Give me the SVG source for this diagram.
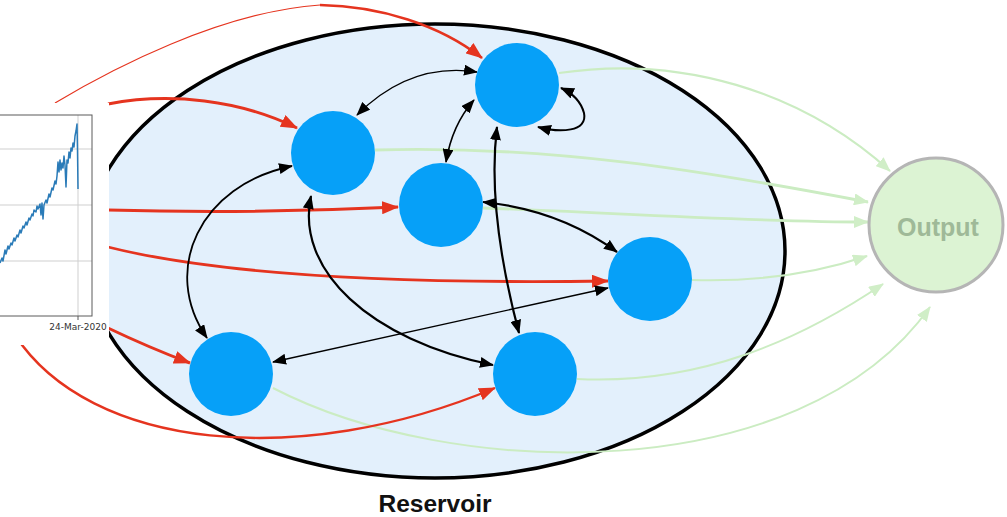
<svg xmlns="http://www.w3.org/2000/svg" width="1007" height="517" viewBox="0 0 1007 517">
  <style>
    .node { fill: #06a0f8; }
    .red { fill: none; stroke: #e5341f; marker-end: url(#head-red); }
    .blk { fill: none; stroke: #000; marker-start: url(#head-black); marker-end: url(#head-black); }
    .grn { fill: none; stroke: #cbecc2; marker-end: url(#head-green); }
    .grid { stroke: #cfcfcf; stroke-width: 1; }
    .label { font-family: "Liberation Sans", Arial, sans-serif; font-weight: bold; text-anchor: middle; }
  </style>
  <defs>
    <marker id="head-red" viewBox="0 0 17 13" refX="16" refY="6.5" markerWidth="17" markerHeight="13" markerUnits="userSpaceOnUse" orient="auto">
      <path d="M0,0 L17,6.5 L0,13 z" fill="#e5341f"/>
    </marker>
    <marker id="head-black" viewBox="0 0 14 11" refX="13" refY="5.5" markerWidth="14" markerHeight="11" markerUnits="userSpaceOnUse" orient="auto-start-reverse">
      <path d="M0,0 L14,5.5 L0,11 z" fill="#000"/>
    </marker>
    <marker id="head-green" viewBox="0 0 15 12" refX="14" refY="6" markerWidth="15" markerHeight="12" markerUnits="userSpaceOnUse" orient="auto">
      <path d="M0,0 L15,6 L0,12 z" fill="#d0eec7"/>
    </marker>
  </defs>

  <rect width="1007" height="517" fill="#fff"/>

  <!-- reservoir container -->
  <g id="reservoir">
    <ellipse cx="435" cy="251" rx="350" ry="227" fill="#e3f0fc" stroke="#000" stroke-width="3.5"/>
    <text class="label" x="435" y="512" font-size="24.5" fill="#111">Reservoir</text>
  </g>

  <g id="connectors">
    <!-- readout links -->
    <path class="grn" stroke-width="2.2" d="M559,73 C 680,55 800,90 890,171"/>
    <path class="grn" stroke-width="2.8" d="M375,150 C 550,145 700,170 868,202"/>
    <path class="grn" stroke-width="2.8" d="M483,208 C 600,212 750,222 868,222"/>
    <path class="grn" stroke-width="2.2" d="M692,280 C 760,282 820,272 867,256"/>
    <path class="grn" stroke-width="2" stroke="#d8f1d1" d="M577,379 C 700,385 800,340 883,284"/>
    <path class="grn" stroke-width="2" stroke="#d8f1d1" d="M273,388 C 450,480 800,490 930,307"/>

    <!-- input links -->
    <path fill="none" stroke="#e5341f" stroke-width="1.2" d="M55,103 C 110,70 220,12 320,5"/>
    <path class="red" stroke-width="2.6" d="M320,5 C 380,6 440,25 482,58"/>
    <path class="red" stroke-width="3" d="M108,104 C 170,92 240,100 297,128"/>
    <path class="red" stroke-width="3" d="M108,210 Q 250,214 398,207"/>
    <path class="red" stroke-width="2.8" d="M108,247 C 220,275 400,284 608,281"/>
    <path class="red" stroke-width="3" d="M108,328 Q 150,348 190,363"/>
    <path class="red" stroke-width="2.4" d="M15,335 C 90,450 300,470 495,388"/>

    <!-- recurrent links -->
    <path class="blk" stroke-width="1.3" d="M357,115 Q 410,62 477,72"/>
    <path class="blk" stroke-width="1.6" d="M474,100 Q 452,125 446,162"/>
    <path class="blk" stroke-width="2" d="M538,127 C 560,133 588,132 584,113 C 581,102 572,93 561,88"/>
    <path class="blk" stroke-width="2.2" d="M497,127 C 488,200 505,280 519,333"/>
    <path class="blk" stroke-width="2.2" d="M483,202 Q 560,210 617,252"/>
    <path class="blk" stroke-width="1.4" d="M273,362 L608,288"/>
    <path class="blk" stroke-width="1.8" d="M292,166 C 200,185 160,270 207,338"/>
    <path class="blk" stroke-width="2.2" d="M311,196 C 295,270 370,340 493,365"/>
  </g>

  <!-- reservoir units -->
  <g id="unit-1"><circle class="node" cx="517" cy="85" r="42"/></g>
  <g id="unit-2"><circle class="node" cx="333" cy="153" r="42"/></g>
  <g id="unit-3"><circle class="node" cx="441" cy="205" r="42"/></g>
  <g id="unit-4"><circle class="node" cx="650" cy="279" r="42"/></g>
  <g id="unit-5"><circle class="node" cx="231" cy="374" r="42"/></g>
  <g id="unit-6"><circle class="node" cx="535" cy="374" r="42"/></g>

  <!-- readout unit -->
  <g id="output">
    <circle cx="936" cy="225" r="67" fill="#dcf3d3" stroke="#b5b5b5" stroke-width="3"/>
    <text class="label" x="938" y="235.5" font-size="25" fill="#9fb998">Output</text>
  </g>

  <!-- input time series plot -->
  <g id="input-series">
    <rect x="0" y="103" width="109" height="242" fill="#fff"/>
    <line class="grid" x1="0" y1="149" x2="92" y2="149"/>
    <line class="grid" x1="0" y1="205" x2="92" y2="205"/>
    <line class="grid" x1="0" y1="261" x2="92" y2="261"/>
    <line class="grid" x1="78" y1="115" x2="78" y2="316"/>
    <rect x="-10" y="115" width="102" height="201" fill="none" stroke="#5a5a5a" stroke-width="1"/>
    <line x1="78" y1="316" x2="78" y2="320" stroke="#5a5a5a" stroke-width="1"/>
    <polyline fill="none" stroke="#2a7bb8" stroke-width="1.5" stroke-linejoin="round"
      points="0,263 2,258 3,261 5,250 6,254 8,246 9,249 11,243 12,245 14,238 15,241 17,235 18,237 20,230 21,233 23,226 24,228 26,222 27,225 29,218 30,220 32,214 33,216 34,210 36,212 37,206 38,209 40,204 41,215 42,203 43,219 44,205 46,200 47,203 49,194 50,197 52,188 53,190 55,181 56,184 57,176 58,162 59,172 60,160 61,170 62,163 63,168 64,156 65,165 66,187 67,160 68,163 69,152 70,158 71,148 72,151 73,143 74,147 75,136 76,131 77,124 77.5,150 78,189"/>
    <text x="78" y="329.5" font-family="'DejaVu Sans', sans-serif" font-size="9" fill="#333" text-anchor="middle">24-Mar-2020</text>
  </g>
</svg>
